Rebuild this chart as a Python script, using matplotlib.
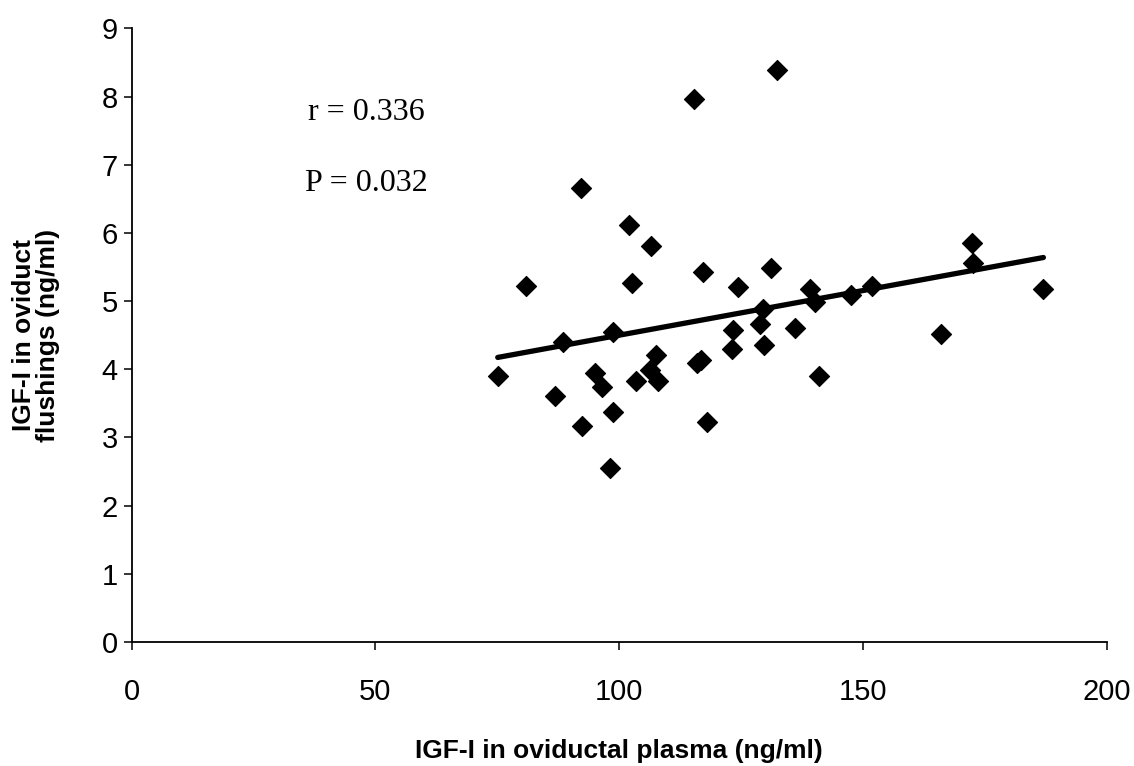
import numpy as np
import matplotlib
matplotlib.use("Agg")
import matplotlib.pyplot as plt

# IGF-I in oviductal plasma (ng/ml) vs IGF-I in oviduct flushings (ng/ml)
plasma = [75.1, 80.9, 86.9, 88.4, 92.2, 92.3, 95.1, 96.5, 98.2, 98.7, 98.8,
          102.1, 102.7, 103.5, 106.4, 106.6, 107.6, 107.9, 115.4, 116.0, 116.8,
          117.2, 118.0, 123.1, 123.4, 124.3, 128.9, 129.6, 129.8, 131.2, 132.3,
          136.0, 139.2, 140.1, 141.0, 147.6, 151.8, 166.0, 172.3, 172.6, 187.0]
flushings = [3.90, 5.22, 3.60, 4.40, 6.66, 3.17, 3.95, 3.74, 2.55, 4.55, 3.37,
             6.11, 5.26, 3.82, 3.99, 5.81, 4.21, 3.83, 7.96, 4.09, 4.13,
             5.42, 3.22, 4.30, 4.58, 5.21, 4.67, 4.89, 4.36, 5.49, 8.39,
             4.60, 5.17, 4.99, 3.90, 5.09, 5.22, 4.52, 5.85, 5.56, 5.18]

stats_text = ["r = 0.336", "P = 0.032"]
x_ticks = [0, 50, 100, 150, 200]
y_ticks = list(range(0, 10))

x = np.array(plasma)
y = np.array(flushings)
slope, intercept = np.polyfit(x, y, 1)
xl = np.array([x.min(), x.max()])

fig = plt.figure(figsize=(11.34, 7.66), dpi=100)
ax = fig.add_axes([0.116, 0.162, 0.86, 0.801])

ax.plot(xl, slope * xl + intercept, color="black", lw=3.8, solid_capstyle="round")
ax.scatter(x, y, marker="D", s=105, color="black", edgecolors="black",
           linewidths=0.8, zorder=3)

ax.set_xlim(0, 200)
ax.set_ylim(0, 9)
ax.set_xticks(x_ticks)
ax.set_yticks(y_ticks)
for s in ["top", "right"]:
    ax.spines[s].set_visible(False)
for s in ["left", "bottom"]:
    ax.spines[s].set_linewidth(1.3)
ax.tick_params(direction="out", length=6, width=1.1, labelsize=21)
for lab in ax.get_xticklabels() + ax.get_yticklabels():
    lab.set_family("Liberation Sans")
ax.tick_params(axis="y", pad=4)
ax.tick_params(axis="x", pad=20)

ax.set_xlabel("IGF-I in oviductal plasma (ng/ml)", fontsize=19, fontweight="bold",
              family="Liberation Sans", labelpad=24)
ax.set_ylabel("IGF-I in oviduct\nflushings (ng/ml)", fontsize=19, fontweight="bold",
              family="Liberation Sans", labelpad=30, linespacing=1.0)

ax.text(48.1, 7.77, stats_text[0], fontsize=23, family="Liberation Serif", ha="center", va="center")
ax.text(48.1, 6.72, stats_text[1], fontsize=23, family="Liberation Serif", ha="center", va="center")

fig.savefig("out.png", dpi=100)
